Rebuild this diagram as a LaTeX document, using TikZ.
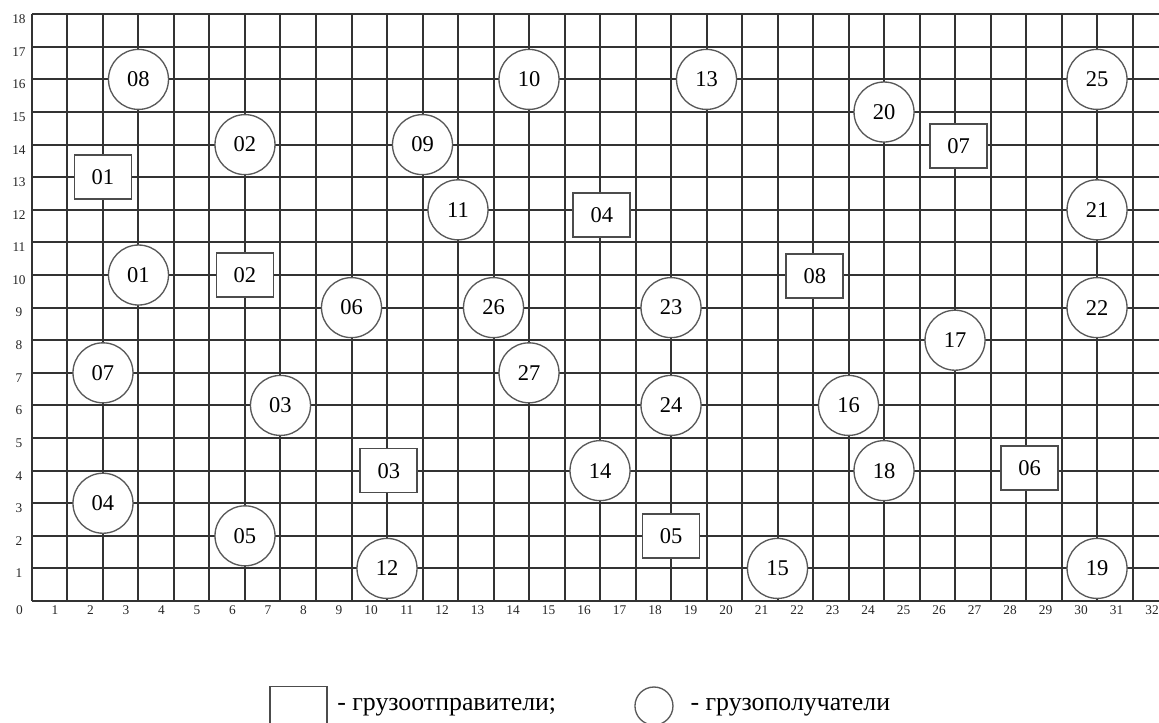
\documentclass[tikz,border=0pt]{standalone}
\usepackage{fontspec}
\setmainfont{Liberation Serif}
\begin{document}
\begin{tikzpicture}[x=21.3pt,y=19.56pt,
  gridline/.style={line width=1.2pt, draw=black!80},
  recv/.style={circle, draw=black!65, line width=0.8pt, fill=white, minimum size=36pt, inner sep=0pt, font=\fontsize{13.5}{13.5}\selectfont},
  ship/.style={rectangle, draw=black!70, line width=1pt, fill=white, minimum width=34.2pt, minimum height=26.4pt, inner sep=0pt, font=\fontsize{13.5}{13.5}\selectfont},
  axlab/.style={font=\fontsize{8}{8}\selectfont, inner sep=0pt, text=black!85},
  legtext/.style={font=\fontsize{15.5}{15.5}\selectfont, inner sep=0pt, anchor=west}]
\useasboundingbox (-0.901,-3.712) rectangle (31.746,18.436);
\begin{scope}
\clip (-0.901,-3.712) rectangle (31.746,18.436);
\foreach \i in {0,...,32} \draw[gridline] (\i,0) -- (\i,18);
\foreach \j in {0,...,18} \draw[gridline] (0,\j) -- (32,\j);
\foreach \i in {0,...,32} \node[axlab, anchor=east] (xl\i) at (\i-0.25,-0.276) {\i};
\foreach \j in {1,...,18} \node[axlab] (yl\j) at (-0.366,\j-0.153) {\j};
\end{scope}
% receivers (circles)
\node[recv] (r08) at (3,16) {08};
\node[recv] (r10) at (14,16) {10};
\node[recv] (r13) at (19,16) {13};
\node[recv] (r25) at (30,16) {25};
\node[recv] (r20) at (24,15) {20};
\node[recv] (r02) at (6,14) {02};
\node[recv] (r09) at (11,14) {09};
\node[recv] (r11) at (12,12) {11};
\node[recv] (r21) at (30,12) {21};
\node[recv] (r01) at (3,10) {01};
\node[recv] (r06) at (9,9) {06};
\node[recv] (r26) at (13,9) {26};
\node[recv] (r23) at (18,9) {23};
\node[recv] (r22) at (30,9) {22};
\node[recv] (r17) at (26,8) {17};
\node[recv] (r07) at (2,7) {07};
\node[recv] (r27) at (14,7) {27};
\node[recv] (r03) at (7,6) {03};
\node[recv] (r24) at (18,6) {24};
\node[recv] (r16) at (23,6) {16};
\node[recv] (r14) at (16,4) {14};
\node[recv] (r18) at (24,4) {18};
\node[recv] (r04) at (2,3) {04};
\node[recv] (r05) at (6,2) {05};
\node[recv] (r12) at (10,1) {12};
\node[recv] (r15) at (21,1) {15};
\node[recv] (r19) at (30,1) {19};
% shippers (rectangles)
\node[ship] (s01) at (2,13) {01};
\node[ship] (s07) at (26.1,13.95) {07};
\node[ship] (s04) at (16.05,11.85) {04};
\node[ship] (s02) at (6,10) {02};
\node[ship] (s08) at (22.05,9.98) {08};
\node[ship] (s03) at (10.05,4) {03};
\node[ship] (s06) at (28.1,4.08) {06};
\node[ship] (s05) at (18,2) {05};
% legend
\begin{scope}
\clip (-0.901,-3.712) rectangle (31.746,18.436);
\node[ship] (legs) at (7.507,-3.3) {};
\end{scope}
\node[legtext] (legst) at (8.59,-3.27) {- грузоотправители;};
\node[circle, draw=black!65, line width=0.8pt, minimum size=22.8pt, inner sep=0pt] (legc) at (17.52,-3.22) {};
\node[legtext] (legct) at (18.54,-3.27) {- грузополучатели};
\end{tikzpicture}
\end{document}
